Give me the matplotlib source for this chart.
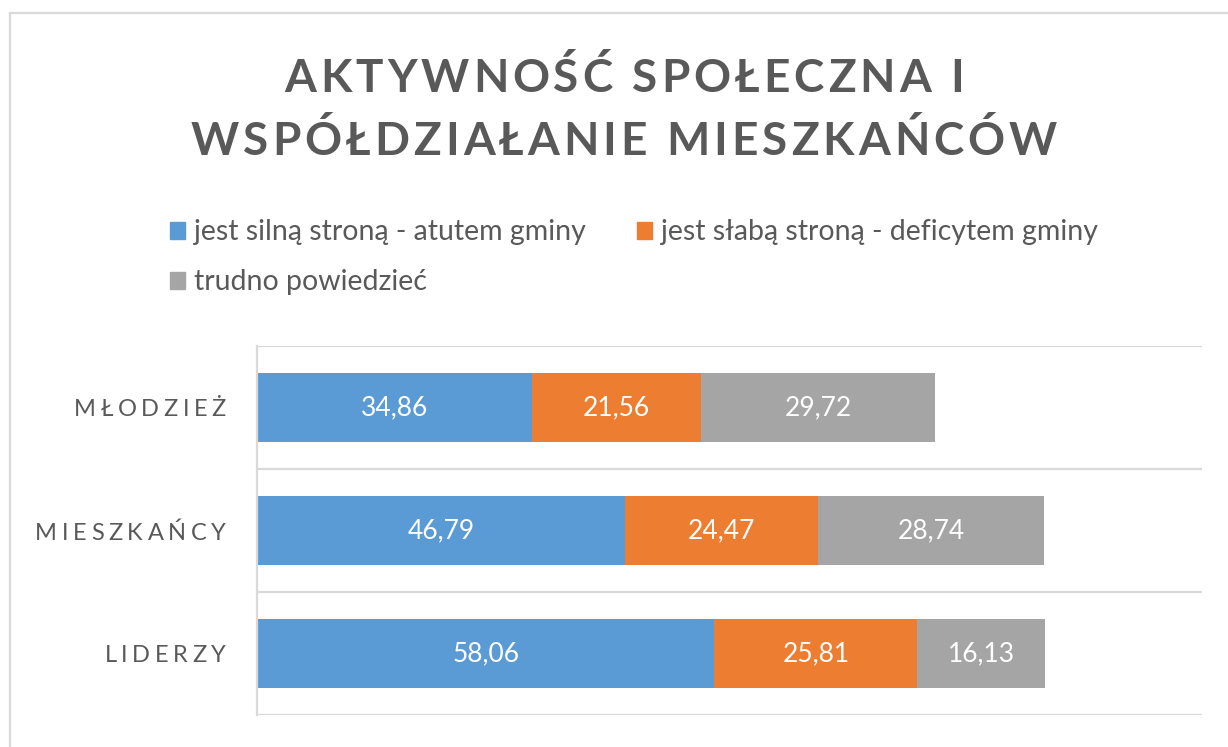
import matplotlib
matplotlib.use("Agg")
import matplotlib.pyplot as plt
import matplotlib.transforms as mtransforms
from matplotlib.font_manager import FontProperties
from matplotlib.lines import Line2D
from matplotlib.patches import Patch

# dane
kategorie = ["MŁODZIEŻ", "MIESZKAŃCY", "LIDERZY"]
serie = ["jest silną stroną - atutem gminy",
         "jest słabą stroną - deficytem gminy",
         "trudno powiedzieć"]
atut = [34.86, 46.79, 58.06]
deficyt = [21.56, 24.47, 25.81]
trudno = [29.72, 28.74, 16.13]
tytul = ["AKTYWNOŚĆ SPOŁECZNA I", "WSPÓŁDZIAŁANIE MIESZKAŃCÓW"]

kolory = ["#5B9BD5", "#ED7D31", "#A5A5A5"]
szary = "#595959"
linia = "#D9D9D9"

plt.rcParams["font.family"] = ["Lato", "DejaVu Sans"]

W, H = 1228, 747
fig = plt.figure(figsize=(W / 100, H / 100), dpi=100)
pix = mtransforms.IdentityTransform()


def rozstrzelony(x, y, s, track, ha="left", **kw):
    # tekst z odstepami miedzy literami (jak w Excelu)
    fp = FontProperties(family=["Lato", "DejaVu Sans"],
                        size=kw.pop("size"), weight=kw.pop("weight", "normal"))
    r = fig.canvas.get_renderer()

    def szer(t):
        return r.get_text_width_height_descent(t, fp, ismath=False)[0] if t.strip() else 0

    pozycje = []
    for i, ch in enumerate(s):
        pozycje.append(szer(s[:i + 1]) - szer(ch) + i * track)
    total = szer(s) + (len(s) - 1) * track
    if ha == "center":
        x0 = x - total / 2
    elif ha == "right":
        x0 = x - total
    else:
        x0 = x
    for ch, p in zip(s, pozycje):
        if ch.strip():
            fig.text(x0 + p, y, ch, transform=pix, fontproperties=fp,
                     ha="left", va="baseline", **kw)


# ramka wykresu
fig.add_artist(Line2D([10, W], [H - 13, H - 13], transform=pix, color=linia, lw=1.6))
fig.add_artist(Line2D([10, 10], [0, H - 13], transform=pix, color=linia, lw=1.6))

# tytul
rozstrzelony(624, H - 92, tytul[0], 4.0, ha="center", size=33, weight="bold", color=szary)
rozstrzelony(624, H - 155, tytul[1], 4.0, ha="center", size=33, weight="bold", color=szary)

ax = fig.add_axes([257 / W, 1 - 715 / H, (1202 - 257) / W, (715 - 346) / H])
y = list(range(len(kategorie)))
lewo = [0] * len(kategorie)
for wart, kol in zip([atut, deficyt, trudno], kolory):
    bary = ax.barh(y, wart, left=lewo, height=0.56, color=kol)
    ax.bar_label(bary, labels=[f"{v:.2f}".replace(".", ",") for v in wart],
                 label_type="center", color="white", fontsize=19)
    lewo = [a + b for a, b in zip(lewo, wart)]

ax.set_xlim(0, 120)
ax.set_ylim(len(kategorie) - 0.5, -0.5)
for g in [-0.5, 0.5, 1.5, 2.5]:
    ax.axhline(g, color=linia, lw=1.6, zorder=0)
for s in ["top", "right", "bottom"]:
    ax.spines[s].set_visible(False)
ax.spines["left"].set_color(linia)
ax.spines["left"].set_linewidth(1.6)
ax.set_xticks([])
ax.set_yticks([])

# etykiety kategorii
for i, k in enumerate(kategorie):
    yp = ax.transData.transform((0, i))[1]
    rozstrzelony(226, yp - 9, k, 4.6, ha="right", size=17, color=szary)

# legenda
uchwyty = [Patch(color=c) for c in kolory]
kolejnosc = [0, 2, 1]
fig.legend([uchwyty[i] for i in kolejnosc], [serie[i] for i in kolejnosc],
           ncol=2, loc="upper left", bbox_to_anchor=(156 / W, 1 - 205 / H),
           frameon=False, fontsize=20.5, labelcolor=szary,
           handlelength=0.53, handleheight=0.53, handletextpad=0.3,
           columnspacing=1.8, labelspacing=0.85, borderpad=0)

fig.savefig("out.png", dpi=100, facecolor="white")
